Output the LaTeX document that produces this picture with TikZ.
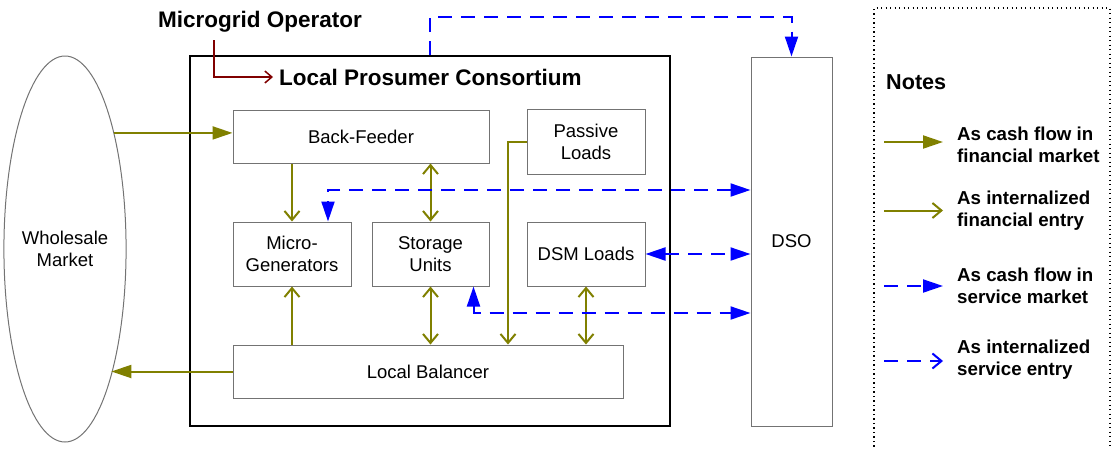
\documentclass[tikz,border=0pt]{standalone}
\usepackage{fontspec}
\setmainfont{Liberation Sans}
\usetikzlibrary{arrows.meta,shapes.geometric}
\definecolor{finolive}{RGB}{128,128,0}
\definecolor{opred}{RGB}{128,0,0}
\definecolor{svcblue}{RGB}{0,0,255}
\begin{document}
\begin{tikzpicture}[x=1pt,y=-1pt,
    box/.style={draw=black!55,line width=1pt,inner sep=0pt,align=center,
        font=\fontsize{18.5}{22}\selectfont},
    title/.style={inner sep=0pt,font=\fontsize{22.5}{26}\selectfont\bfseries},
    legtext/.style={anchor=west,inner sep=0pt,align=left,
        font=\fontsize{18.7}{22.5}\selectfont\bfseries},
    fin/.style={draw=finolive,line width=2pt,-{Triangle[length=20pt,width=13pt]}},
    finint/.style={draw=finolive,line width=2pt,-{Straight Barb[length=9pt,width=15pt]}},
    finboth/.style={draw=finolive,line width=2pt,
        {Straight Barb[length=9pt,width=15pt]}-{Straight Barb[length=9pt,width=15pt]}},
    svc/.style={draw=svcblue,line width=2pt,dash pattern=on 14pt off 9pt,
        -{Triangle[length=20pt,width=13pt]}},
    svcboth/.style={svc,{Triangle[length=20pt,width=13pt]}-{Triangle[length=20pt,width=13pt]}},
    svcint/.style={draw=svcblue,line width=2pt,dash pattern=on 14pt off 9pt,
        -{Straight Barb[length=9pt,width=15pt]}}]
    \useasboundingbox (0,0) rectangle (1114,448);

    % market side
    \node[box,ellipse,minimum width=114,minimum height=386] (wm) at (65,249) {Wholesale\\Market};
    \node[draw,line width=2pt,minimum width=480,minimum height=370] (lpc) at (430,241) {};
    \node[title,anchor=west] (lpctitle) at (279,77) {Local Prosumer Consortium};
    \node[title] (mgo) at (260,22) {Microgrid Operator};
    \node[box,minimum width=81,minimum height=369] (dso) at (791.5,241.5) {DSO};

    % consortium members
    \node[box,minimum width=256,minimum height=53] (bf) at (361,136.5) {Back-Feeder};
    \node[box,minimum width=118,minimum height=65] (pl) at (586,141.5) {Passive\\Loads};
    \node[box,minimum width=118,minimum height=64] (mg) at (292,254) {Micro-\\Generators};
    \node[box,minimum width=117,minimum height=64] (su) at (430.5,254) {Storage\\Units};
    \node[box,minimum width=118,minimum height=64] (dsm) at (586,254) {DSM Loads};
    \node[box,minimum width=390,minimum height=53] (lb) at (428,371.5) {Local Balancer};

    % operator
    \coordinate (mgofoot) at (214,40);
    \draw[opred,line width=1.5pt,-{Straight Barb[length=7pt,width=12pt]}] (mgofoot) |- ([xshift=-6pt]lpctitle.west);

    % financial flows
    \draw[fin] (wm.67.5) -- (wm.67.5 -| bf.west);
    \draw[fin] (lb.west) -- (lb.west -| wm.-70.4);
    \draw[finint] (bf.south -| mg) -- (mg.north);
    \draw[finboth] (bf.south -| su) -- (su.north);
    \draw[finint] (lb.north -| mg) -- (mg.south);
    \draw[finboth] (su.south) -- (su.south |- lb.north);
    \draw[finint] (pl.west) -| ([xshift=80pt]lb.north);
    \draw[finboth] (dsm.south) -- (dsm.south |- lb.north);

    % service flows
    \draw[svc] (lpc.north) -- ++(0,-38) -| (dso.north);
    \draw[svcboth] (dso.west |- 0,190) -| ([xshift=36pt]mg.north);
    \draw[svcboth] (dsm.east) -- (dsm.east -| dso.west);
    \draw[svcboth] ([xshift=43pt]su.south) |- (dso.west |- 0,313);

    % notes
    \draw[line width=1.2pt,dash pattern=on 1.2pt off 3.3pt] (874,460) -- (874,8) -- (1110,8) -- (1110,460);
    \node[title,anchor=west,font=\fontsize{21.6}{26}\selectfont\bfseries] (notes) at (886,82) {Notes};
    \node[legtext] (leg1) at (957,145) {As cash flow in\\financial market};
    \node[legtext] (leg2) at (957,210.5) {As internalized\\financial entry};
    \node[legtext] (leg3) at (957,286) {As cash flow in\\service market};
    \node[legtext] (leg4) at (957,359.5) {As internalized\\service entry};
    \draw[fin] ([xshift=-73pt,yshift=3pt]leg1.west) -- ([xshift=-14pt,yshift=3pt]leg1.west);
    \draw[finint] ([xshift=-73pt]leg2.west) -- ([xshift=-14pt]leg2.west);
    \draw[svc] ([xshift=-73pt]leg3.west) -- ([xshift=-14pt]leg3.west);
    \draw[svcint] ([xshift=-73pt,yshift=-1.5pt]leg4.west) -- ([xshift=-14pt,yshift=-1.5pt]leg4.west);
\end{tikzpicture}
\end{document}
